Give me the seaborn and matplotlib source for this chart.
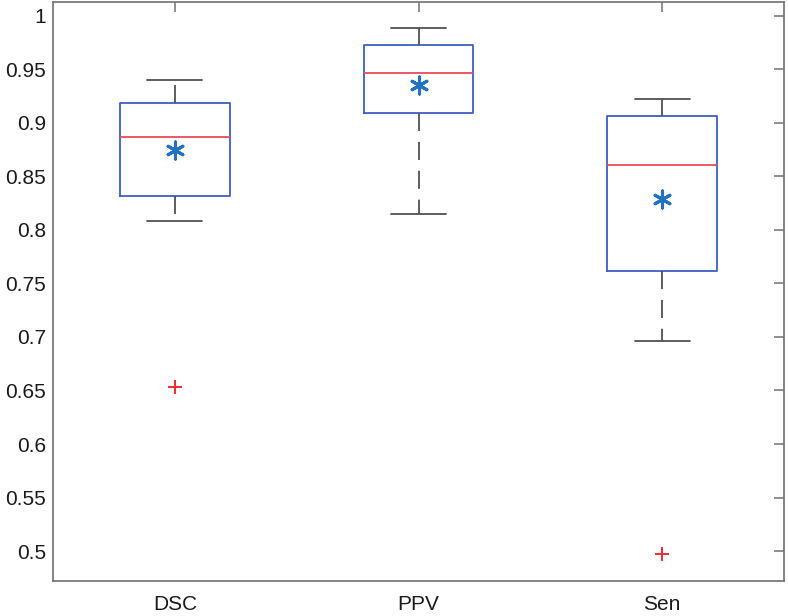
import numpy as np
import pandas as pd
import matplotlib
matplotlib.use("Agg")
import matplotlib.pyplot as plt
import seaborn as sns

# box summary (MATLAB-style boxplot)
metrics = ["DSC", "PPV", "Sen"]
q1 = [0.832, 0.909, 0.762]
median = [0.887, 0.947, 0.861]
q3 = [0.919, 0.973, 0.906]
whisker_lo = [0.808, 0.815, 0.696]
whisker_hi = [0.940, 0.989, 0.922]
means = [0.875, 0.935, 0.829]
outlier_metric = ["DSC", "Sen"]
outlier_value = [0.653, 0.497]

yticks = [0.5, 0.55, 0.6, 0.65, 0.7, 0.75, 0.8, 0.85, 0.9, 0.95, 1.0]

sns.set_theme(style="white")
plt.rcParams["font.family"] = ["Liberation Sans", "DejaVu Sans"]

axis_col = "#707070"
box_col = "#3d5fc2"
med_col = "#ec4a55"
whisk_col = "#505050"

fig = plt.figure(figsize=(7.88, 6.16), dpi=100)
ax = fig.add_axes([0.0673, 0.0568, 0.9277, 0.94])

pos = {m: i + 1 for i, m in enumerate(metrics)}
stats = []
for i, m in enumerate(metrics):
    stats.append(dict(label=m, q1=q1[i], med=median[i], q3=q3[i],
                      whislo=whisker_lo[i], whishi=whisker_hi[i], fliers=[]))

ax.bxp(stats, positions=list(pos.values()), widths=0.45, capwidths=0.225,
       showfliers=False,
       boxprops=dict(color=box_col, linewidth=1.3),
       medianprops=dict(color=med_col, linewidth=1.3),
       whiskerprops=dict(color=whisk_col, linewidth=1.3, linestyle=(0, (10, 6))),
       capprops=dict(color=whisk_col, linewidth=1.3))

# mean markers
mean_df = pd.DataFrame({"x": [pos[m] for m in metrics], "y": means})
sns.scatterplot(data=mean_df, x="x", y="y", ax=ax, marker=(6, 2, 0), s=150,
                color="#2272c3", edgecolor="#2272c3", linewidth=2.2, zorder=5)

# outliers
out_df = pd.DataFrame({"x": [pos[m] for m in outlier_metric], "y": outlier_value})
sns.scatterplot(data=out_df, x="x", y="y", ax=ax, marker="+", s=110,
                color="#ee2a35", linewidth=1.4, zorder=5)

ax.set_xlim(0.5, 3.5)
ax.set_ylim(0.472, 1.013)
ax.set_xticks(list(pos.values()))
ax.set_xticklabels(metrics)
ax.set_yticks(yticks)
ax.set_yticklabels([f"{t:g}" for t in yticks])
ax.set_xlabel("")
ax.set_ylabel("")

for s in ax.spines.values():
    s.set_visible(True)
    s.set_color(axis_col)
    s.set_linewidth(1.2)
ax.tick_params(axis="both", direction="in", length=7, width=1.1, color=axis_col,
               labelsize=15, labelcolor="#1a1a1a", top=True, right=True)
ax.tick_params(axis="x", pad=10)
ax.tick_params(axis="y", pad=5)

fig.savefig("out.png", dpi=100)
